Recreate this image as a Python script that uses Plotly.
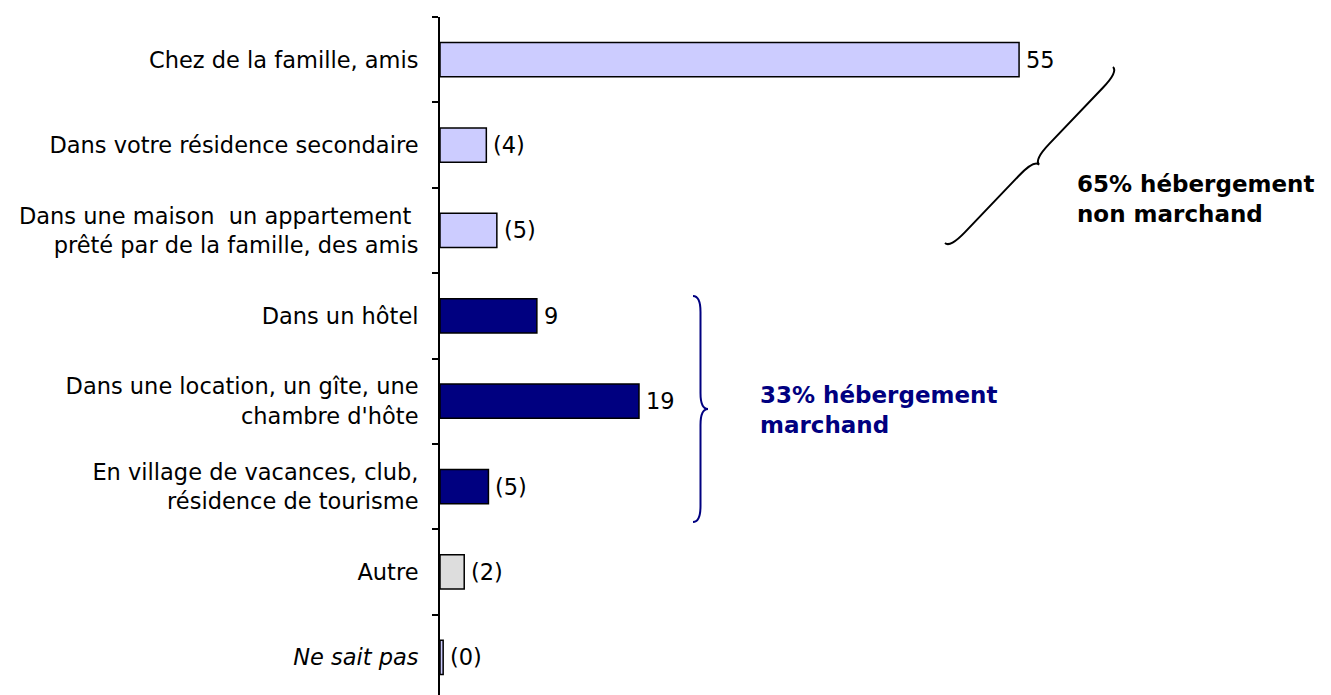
import plotly.graph_objects as go
import math

categories = [
    "Chez de la famille, amis",
    "Dans votre résidence secondaire",
    "Dans une maison  un appartement <br>prêté par de la famille, des amis",
    "Dans un hôtel",
    "Dans une location, un gîte, une<br>chambre d'hôte",
    "En village de vacances, club,<br>résidence de tourisme",
    "Autre",
    "<i>Ne sait pas</i>",
]
values = [55, 4.4, 5.4, 9.2, 18.9, 4.6, 2.3, 0.3]
value_labels = ["55", "(4)", "(5)", "9", "19", "(5)", "(2)", "(0)"]
bar_colors = ["#CCCCFF", "#CCCCFF", "#CCCCFF", "#000080", "#000080", "#000080", "#DDDDDD", "#CCCCFF"]

group_labels = ["<b>65% hébergement<br>non marchand</b>", "<b>33% hébergement<br>marchand</b>"]
group_colors = ["#000000", "#000080"]

W, H = 1331, 695
OFF = 8  # page body margin
L_M, R_M, T_M, B_M = 440 - OFF, 154 + OFF, 17 - OFF, 3
PW = W - L_M - R_M
PH = H - T_M - B_M
FONT = "DejaVu Sans"


def to_paper(px, py):
    # px, py in window pixels
    fx, fy = px - OFF, py - OFF
    return (fx - L_M) / PW, (H - B_M - fy) / PH


def brace_path(A, B, n, d, r):
    ax, ay = A
    bx, by = B
    Lx, Ly = bx - ax, by - ay
    Ln = math.hypot(Lx, Ly)
    ux, uy = Lx / Ln, Ly / Ln
    nx, ny = n

    def P(s, t):
        px = ax + s * ux + t * nx
        py = ay + s * uy + t * ny
        x, y = to_paper(px, py)
        return f"{x:.5f},{y:.5f}"

    h = d / 2
    m = Ln / 2
    return (
        f"M {P(0,0)} Q {P(0,h)} {P(r,h)} L {P(m-r,h)} Q {P(m,h)} {P(m,d)} "
        f"Q {P(m,h)} {P(m+r,h)} L {P(Ln-r,h)} Q {P(Ln,h)} {P(Ln,0)}"
    )


fig = go.Figure()
fig.add_trace(go.Bar(
    x=values,
    y=categories,
    orientation="h",
    width=0.4,
    marker=dict(color=bar_colors, line=dict(color="#000000", width=1.5)),
    hoverinfo="skip",
))

for v, c, t in zip(values, categories, value_labels):
    fig.add_annotation(
        x=v, y=c, text=t, xanchor="left", yanchor="middle", xshift=5, yshift=0,
        showarrow=False, font=dict(family=FONT, size=22.5, color="#000000"),
    )

# braces
A1, B1 = (945, 243), (1113, 67)
ux, uy = (B1[0] - A1[0]), (B1[1] - A1[1])
ln = math.hypot(ux, uy)
n1 = (-uy / ln, ux / ln)
if n1[0] < 0:
    n1 = (-n1[0], -n1[1])
fig.add_shape(type="path", xref="paper", yref="paper",
              path=brace_path(A1, B1, n1, 14, 22),
              line=dict(color="#000000", width=2))
fig.add_shape(type="path", xref="paper", yref="paper",
              path=brace_path((693, 296), (693, 522), (1, 0), 15, 16),
              line=dict(color="#000080", width=2))

gx, gy = to_paper(1075, 199)
fig.add_annotation(x=gx, y=gy, xref="paper", yref="paper", text=group_labels[0],
                   xanchor="left", yanchor="middle", align="left", showarrow=False,
                   font=dict(family=FONT, size=23, color=group_colors[0]))
gx, gy = to_paper(758, 410)
fig.add_annotation(x=gx, y=gy, xref="paper", yref="paper", text=group_labels[1],
                   xanchor="left", yanchor="middle", align="left", showarrow=False,
                   font=dict(family=FONT, size=23, color=group_colors[1]))

fig.update_layout(
    width=W, height=H,
    margin=dict(l=L_M, r=R_M, t=T_M, b=B_M, pad=0),
    paper_bgcolor="#FFFFFF", plot_bgcolor="#FFFFFF",
    showlegend=False,
    font=dict(family=FONT, size=22.5, color="#000000"),
    xaxis=dict(range=[0, 70], visible=False, fixedrange=True),
    yaxis=dict(
        autorange="reversed",
        showline=True, linecolor="#000000", linewidth=2,
        ticks="outside", ticklen=6, tickwidth=2, tickcolor="#000000",
        tickson="boundaries", showgrid=False, zeroline=False,
        ticklabelstandoff=15,
        tickfont=dict(family=FONT, size=22.5, color="#000000"),
        fixedrange=True,
    ),
)

fig.write_html("out.html")
